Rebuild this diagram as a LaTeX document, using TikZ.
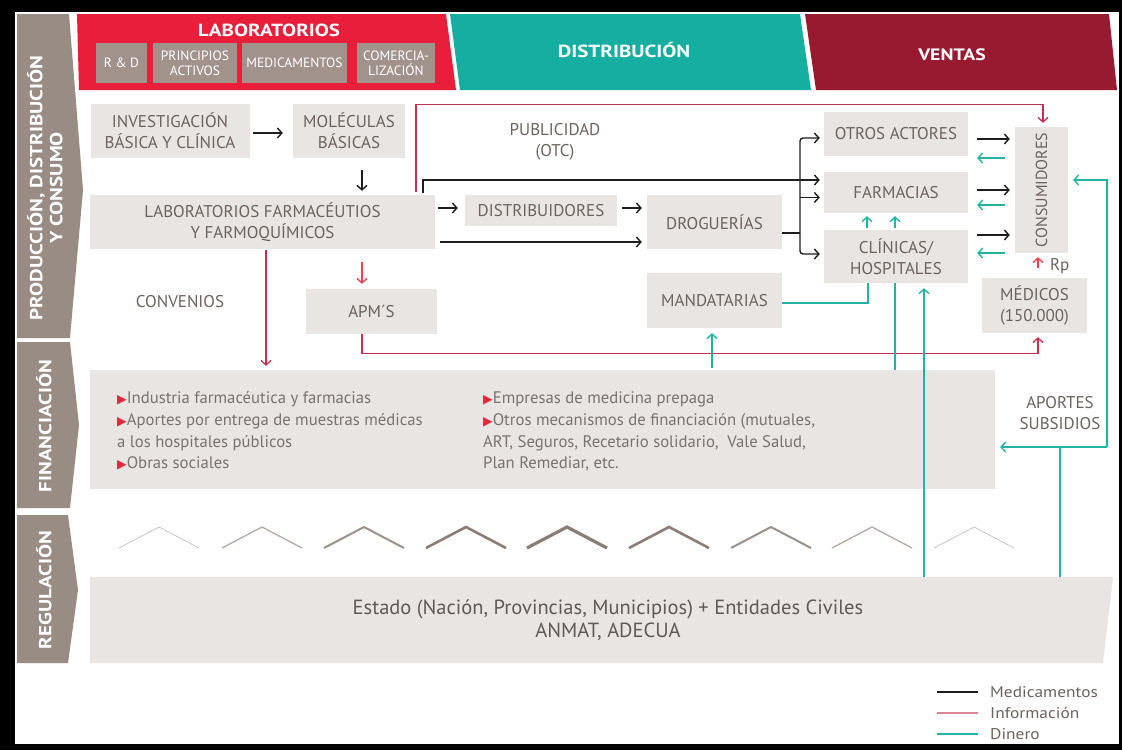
\documentclass[tikz,border=0pt]{standalone}
\usepackage{fontspec}
\setmainfont{PT Sans}
\newfontfamily\dejavu{DejaVu Sans}
\newfontfamily\widefont[FakeStretch=1.2]{PT Sans}
\newfontfamily\legfont[FakeStretch=1.12]{PT Sans}
\usetikzlibrary{arrows.meta,calc}
\definecolor{labred}{RGB}{232,30,58}
\definecolor{distteal}{RGB}{22,174,160}
\definecolor{ventred}{RGB}{152,26,48}
\definecolor{tabgray}{RGB}{152,140,132}
\definecolor{subgray}{RGB}{162,146,140}
\definecolor{boxgray}{RGB}{233,229,227}
\definecolor{txtgray}{RGB}{108,99,94}
\definecolor{fingray}{RGB}{122,114,110}
\definecolor{medblack}{RGB}{30,30,30}
\definecolor{infored}{RGB}{196,48,82}
\definecolor{infobright}{RGB}{232,66,82}
\definecolor{infolight}{RGB}{220,132,150}
\definecolor{money}{RGB}{36,178,163}
\definecolor{chev}{RGB}{138,126,118}
\definecolor{trired}{RGB}{230,40,60}
\newcommand{\fsz}[2]{\fontsize{#1}{#2}\selectfont}
\newcommand{\tri}{{\dejavu\fontsize{12.5}{12}\selectfont\textcolor{trired}{▶}}}
\begin{document}
\begin{tikzpicture}[x=1pt,y=-1pt,
  box/.style={fill=boxgray,inner sep=0pt,text=txtgray,align=center,font=\fsz{17}{21}},
  lbl/.style={inner sep=0pt,text=txtgray,align=center,font=\fsz{17}{21}},
  tip/.style={-{Straight Barb[length=4.5pt,width=10pt]}},
  medl/.style={draw=medblack,line width=1.4pt},
  infl/.style={draw=infored,line width=1.3pt},
  infb/.style={draw=infobright,line width=1.3pt},
  monl/.style={draw=money,line width=1.4pt},
  tabtxt/.style={text=white,font=\widefont\bfseries\fsz{17.5}{20},rotate=90,align=center,inner sep=0pt},
  hdr/.style={text=white,font=\widefont\bfseries\fsz{17.5}{20},inner sep=0pt},
  sub/.style={fill=subgray,text=white,inner sep=0pt,align=center,font=\fsz{13.5}{15},minimum height=40pt},
  fintxt/.style={inner sep=0pt,anchor=base west,text=fingray,font=\fsz{16.7}{22}},
  legtxt/.style={inner sep=0pt,anchor=west,text=txtgray,font=\legfont\fsz{15.5}{18}},
]
\useasboundingbox (0,0) rectangle (1122,750);
\fill[black] (0,0) rectangle (1122,750);
\fill[white] (15,12) rectangle (1119,744);

% side tabs
\fill[tabgray] (17,14) -- (69,14) -- (83,190) -- (70,338) -- (17,338) -- cycle;
\fill[tabgray] (17,342) -- (70,342) -- (79,425) -- (70,508) -- (17,508) -- cycle;
\fill[tabgray] (17,515) -- (68,515) -- (78,590) -- (68,663) -- (17,663) -- cycle;
\node[tabtxt] (tabA) at (45,188) {PRODUCCIÓN, DISTRIBUCIÓN\\Y CONSUMO};
\node[tabtxt] (tabB) at (44,426) {FINANCIACIÓN};
\node[tabtxt] (tabC) at (44,590) {REGULACIÓN};

% headers
\fill[labred] (77,14) -- (446,14) -- (456,90) -- (79,90) -- cycle;
\fill[distteal] (450,14) -- (800,14) -- (811,90) -- (460,90) -- cycle;
\fill[ventred] (805,14) -- (1109,14) -- (1117,90) -- (816,90) -- cycle;
\node[hdr] (hlab) at (269,30) {LABORATORIOS};
\node[hdr] (hdist) at (624,50) {DISTRIBUCIÓN};
\node[hdr,font=\widefont\bfseries\fsz{16.5}{20}] (hvent) at (952,55) {VENTAS};
\node[sub,minimum width=51pt] (srd) at (121.5,63) {R \& D};
\node[sub,minimum width=84pt] (spa) at (195,63) {PRINCIPIOS\\ACTIVOS};
\node[sub,minimum width=105pt] (smed) at (294.5,63) {MEDICAMENTOS};
\node[sub,minimum width=78pt] (scom) at (396,63) {COMERCIA-\\LIZACIÓN};

% boxes
\node[box,minimum width=159pt,minimum height=54pt] (inv) at (170,131) {INVESTIGACIÓN\\BÁSICA Y CLÍNICA};
\node[box,minimum width=112pt,minimum height=54pt] (mol) at (349,131) {MOLÉCULAS\\BÁSICAS};
\node[box,minimum width=345pt,minimum height=54pt] (lab) at (262.5,222) {LABORATORIOS FARMACÉUTIOS\\Y FARMOQUÍMICOS};
\node[box,minimum width=131pt,minimum height=45pt] (apm) at (371.5,311.5) {APM´S};
\node[box,minimum width=152pt,minimum height=31pt] (dist) at (541,210.5) {DISTRIBUIDORES};
\node[box,minimum width=135pt,minimum height=54pt] (drog) at (714.5,222) {DROGUERÍAS};
\node[box,minimum width=135pt,minimum height=55pt] (mand) at (714.5,300.5) {MANDATARIAS};
\node[box,minimum width=144pt,minimum height=44pt] (otros) at (896,134) {OTROS ACTORES};
\node[box,minimum width=144pt,minimum height=41pt] (farm) at (896,192.5) {FARMACIAS};
\node[box,minimum width=144pt,minimum height=53pt] (clin) at (896,256.5) {CLÍNICAS/\\HOSPITALES};
\node[box,minimum width=53pt,minimum height=126pt] (cons) at (1041.5,190) {};
\node[lbl,rotate=90,font=\fsz{16}{20}] (consT) at (cons.center) {CONSUMIDORES};
\node[box,minimum width=105pt,minimum height=55pt] (med) at (1034.5,305.5) {MÉDICOS\\(150.000)};
\node[fill=boxgray,inner sep=0pt,minimum width=905pt,minimum height=119pt] (fin) at (542.5,429.5) {};

% regulation
\fill[boxgray] (90,577) -- (1113,577) -- (1103,663) -- (90,663) -- cycle;
\node[inner sep=0pt,align=center,text=txtgray!90!black,font=\fsz{20.5}{23}] (reg) at (608,620) {Estado (Nación, Provincias, Municipios) + Entidades Civiles\\ANMAT, ADECUA};
\coordinate (regA) at (924,577);
\coordinate (regB) at (1060,577);
\coordinate (jn) at (1107,447);
\coordinate (tree) at (800,233);

% chevrons
\foreach \cx/\w/\c in {159/0.8/45,262/1.3/65,364/2/85,466/2.6/100,567/3.2/100,669/2.6/100,771/2/85,872/1.3/65,974/0.8/45}
  \draw[line width=\w pt,draw=chev!\c] (\cx-40,548) -- (\cx,527) -- (\cx+40,548);

% text labels
\node[lbl] (conv) at (180,302) {CONVENIOS};
\node[lbl] (pub) at (555,142) {PUBLICIDAD\\(OTC)};
\node[lbl] (aport) at (1060,413) {APORTES\\SUBSIDIOS};
\node[lbl,anchor=west] (rp) at (1050,266) {Rp};

% financing text
\node[fintxt] (f1) at (117,403) {\tri Industria farmacéutica y farmacias};
\node[fintxt] (f2) at (117,425) {\tri Aportes por entrega de muestras médicas};
\node[fintxt] (f3) at (117,447) {a los hospitales públicos};
\node[fintxt] (f4) at (117,468) {\tri Obras sociales};
\node[fintxt] (f5) at (483,403) {\tri Empresas de medicina prepaga};
\node[fintxt] (f6) at (483,425) {\tri Otros mecanismos de financiación (mutuales,};
\node[fintxt] (f7) at (483,447) {ART, Seguros, Recetario solidario,\ \ Vale Salud,};
\node[fintxt] (f8) at (483,468) {Plan Remediar, etc.};

% medicamentos (black)
\draw[medl,tip] ($(inv.east)+(3,2)$) -- ($(mol.west)+(-10,2)$);
\draw[medl,tip] ($(mol.south)+(13,12)$) -- ($(lab.north)+(99.5,-4)$);
\draw[medl,tip] ($(lab.east)+(3,-14)$) -- ($(dist.west)+(-7,-2.5)$);
\draw[medl,tip] ($(dist.east)+(5,-2.5)$) -- ($(drog.west)+(-5,-14)$);
\draw[medl,tip] ($(lab.east)+(5,20)$) -- ($(drog.west)+(-5,20)$);
\draw[medl,tip] ($(lab.north)+(160.5,-2)$) |- ($(farm.west)+(-4,-12.5)$);
\draw[medl] ($(drog.east)+(0,11)$) -- (tree);
\draw[medl,tip,rounded corners=3pt] (tree) |- ($(otros.west)+(-4,4)$);
\draw[medl,tip,rounded corners=3pt] (tree) |- ($(clin.west)+(-4,-2.5)$);
\draw[medl,tip] ($(farm.west)+(-24,5)$) -- ($(farm.west)+(-4,5)$);
\draw[medl,tip] ($(otros.east)+(9,5)$) -- ($(cons.west)+(-5,-51)$);
\draw[medl,tip] ($(farm.east)+(9,-2.5)$) -- ($(cons.west)+(-5,0)$);
\draw[medl,tip] ($(clin.east)+(9,-21.5)$) -- ($(cons.west)+(-5,45)$);

% informacion (red)
\draw[infl,tip] ($(lab.north)+(153.5,-3)$) |- ($(cons.north)+(1.5,-22)$) -- ($(cons.north)+(1.5,-4)$);
\draw[infb,tip] ($(lab.south)+(99.5,13)$) -- ($(apm.north)+(-9.5,-5)$);
\draw[infl,tip] ($(lab.south)+(3.5,1)$) -- ($(fin.north)+(-276.5,-4)$);
\draw[infl,tip] ($(apm.south)+(-9.5,0)$) |- ($(med.south)+(3.5,20)$) -- ($(med.south)+(3.5,4)$);
\draw[infb,tip] ($(med.north)+(3.5,-10)$) -- ($(cons.south)+(-3.5,4)$);

% dinero (teal)
\draw[monl,tip] ($(cons.west)+(-10,-32)$) -- ($(otros.east)+(9,24)$);
\draw[monl,tip] ($(cons.west)+(-10,15)$) -- ($(farm.east)+(9,12.5)$);
\draw[monl,tip] ($(cons.west)+(-10,63)$) -- ($(clin.east)+(9,-3.5)$);
\draw[monl,tip] ($(fin.north)+(169.5,-2)$) -- ($(mand.south)+(-2.5,5)$);
\draw[monl] ($(mand.east)+(0,2.5)$) -| ($(clin.south)+(-28,0)$);
\draw[monl,tip] ($(clin.north)+(-29,-2)$) -- ($(farm.south)+(-29,3)$);
\draw[monl,tip] ($(clin.north)+(-1,-2)$) -- ($(farm.south)+(-1,3)$);
\draw[monl] ($(fin.north)+(352.5,0)$) -- ($(clin.south)+(-1,0)$);
\draw[monl,tip] (regA) -- ($(clin.south)+(28,5)$);
\draw[monl] (regB) |- (jn);
\draw[monl,tip] (jn) -- ($(fin.east)+(5,17.5)$);
\draw[monl,tip] (jn) |- ($(cons.east)+(5,-10)$);

% legend
\coordinate (l1a) at (937,692); \coordinate (l1b) at (978,692);
\coordinate (l2a) at (937,713); \coordinate (l2b) at (978,713);
\coordinate (l3a) at (937,734); \coordinate (l3b) at (978,734);
\draw[draw=medblack,line width=2pt] (l1a) -- (l1b);
\draw[draw=infolight,line width=1.2pt] (l2a) -- (l2b);
\draw[draw=money,line width=2pt] (l3a) -- (l3b);
\node[legtxt] (lg1) at (990,692) {Medicamentos};
\node[legtxt] (lg2) at (990,713) {Información};
\node[legtxt] (lg3) at (990,734) {Dinero};
\end{tikzpicture}
\end{document}
